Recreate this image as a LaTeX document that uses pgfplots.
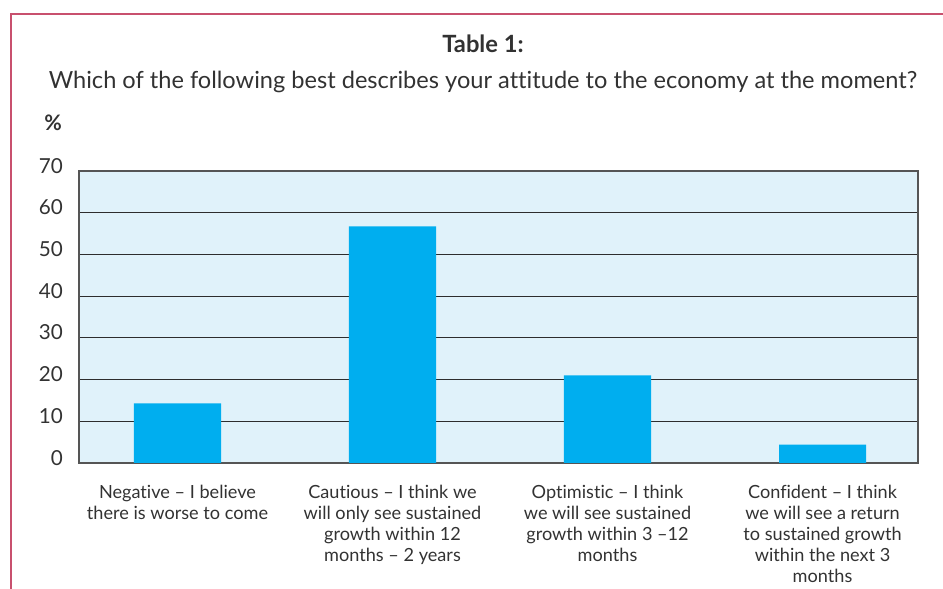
\documentclass[border=0pt]{standalone}
\usepackage{pgfplots}
\pgfplotsset{compat=1.18}
\usepackage{fontspec}
\setmainfont{Lato}[Ligatures=NoCommon]
\definecolor{framec}{RGB}{200,80,110}
\definecolor{barc}{RGB}{0,174,239}
\definecolor{bgc}{RGB}{224,242,250}
\definecolor{txt}{RGB}{50,50,50}
\definecolor{gridc}{RGB}{45,45,45}
\definecolor{axc}{RGB}{85,85,85}
\begin{document}
\begin{tikzpicture}
\path[use as bounding box] (0pt,0pt) rectangle (707.25pt,441.75pt);
\draw[framec, line width=1.1pt] (8.25pt,0pt) -- (8.25pt,431.25pt) -- (707.25pt,431.25pt);
\node[txt, font=\fontsize{17.8}{20}\selectfont\bfseries] at (362.25pt,409pt) {Table 1:};
\node[txt, font=\fontsize{17.7}{20}\selectfont] at (362.25pt,380pt) {Which of the following best describes your attitude to the economy at the moment?};
\node[txt, font=\fontsize{16}{18}\selectfont\bfseries] at (39.75pt,349.5pt) {\%};
\begin{axis}[
  width=629.25pt, height=219pt, scale only axis,
  at={(59.25pt,94.5pt)}, anchor=south west,
  xmin=-0.458, xmax=3.444, ymin=0, ymax=70,
  ytick={0,10,...,70}, xtick={0,1,2,3},
  xticklabels={{Negative -- I believe\\there is worse to come},
               {Cautious -- I think we\\will only see sustained\\growth within 12\\months -- 2 years},
               {Optimistic -- I think\\we will see sustained\\growth within 3 --12\\months},
               {Confident -- I think\\we will see a return\\to sustained growth\\within the next 3\\months}},
  ymajorgrids, grid style={gridc, line width=0.9pt},
  axis background/.style={fill=bgc},
  axis line style={draw=axc, line width=1.1pt},
  major tick length=0pt,
  tick label style={txt},
  /pgf/number format/assume math mode=true,
  yticklabel style={font=\fontsize{15.5}{17}\selectfont, yshift=4pt, xshift=-8.5pt},
  xticklabel style={font=\fontsize{13.6}{15.75}\selectfont, align=center, yshift=-13pt},
  ybar, bar width=0.405,
]
\addplot[fill=barc, draw=none] coordinates {(0,14.3) (1,56.7) (2,21.0) (3,4.4)};
\end{axis}
\end{tikzpicture}
\end{document}
